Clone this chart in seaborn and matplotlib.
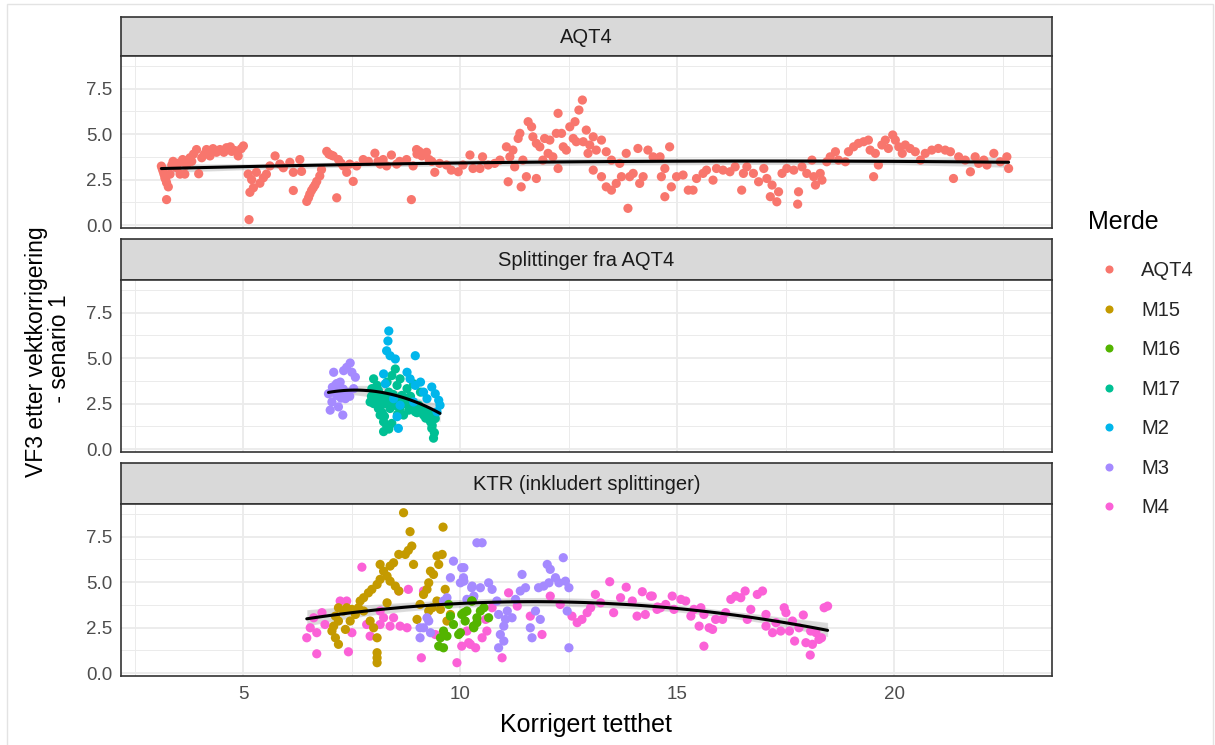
import numpy as np
import pandas as pd
import matplotlib
matplotlib.use("Agg")
import matplotlib.pyplot as plt
import seaborn as sns
from matplotlib.lines import Line2D
from matplotlib.patches import Rectangle

# ---------------- data ----------------
facets = ["AQT4", "Splittinger fra AQT4", "KTR (inkludert splittinger)"]
merder = ["AQT4", "M15", "M16", "M17", "M2", "M3", "M4"]
colors = ["#F8766D", "#C49A00", "#53B400", "#00C094", "#00B6EB", "#A58AFF", "#FB61D7"]

# Panel 1: AQT4
aqt4_x = [3.11, 3.13, 3.15, 3.17, 3.19, 3.21, 3.23, 3.23, 3.27, 3.31, 3.35, 3.38, 3.46, 3.50, 3.54,
          3.60, 3.65, 3.69, 3.77, 3.81, 3.85, 3.92, 3.97, 4.04, 4.10, 4.15, 4.23, 4.30, 4.38, 4.46,
          4.55, 4.61, 4.70, 4.73, 4.80, 4.88, 4.95, 5.00,
          5.11, 5.13, 5.15, 5.19, 5.23, 5.30, 5.38, 5.46, 5.53, 5.61, 5.73, 5.84, 5.92, 6.07, 6.15,
          6.15, 6.30, 6.34, 6.46, 6.50, 6.53, 6.57, 6.61, 6.65, 6.69, 6.76, 6.80, 6.92, 6.97, 7.02,
          7.07, 7.15, 7.19, 7.25, 7.30, 7.38, 7.45, 7.53, 7.61, 7.76, 7.88, 8.03, 8.10, 8.15, 8.22,
          8.30, 8.41, 8.53, 8.60, 8.76, 8.87, 8.91, 8.99, 9.00, 9.05, 9.11, 9.22, 9.28, 9.34, 9.41,
          9.52, 9.68, 9.79, 9.95, 10.06, 10.22, 10.29, 10.45, 10.51, 10.64, 10.79, 10.91, 11.06,
          11.10, 11.14, 11.21, 11.25, 11.33, 11.37, 11.40, 11.44, 11.52, 11.56, 11.64, 11.67, 11.75,
          11.75, 11.83, 11.90, 11.94, 12.02, 12.06, 12.13, 12.21, 12.25, 12.25, 12.33, 12.37, 12.44,
          12.52, 12.60, 12.64, 12.67, 12.73, 12.81, 12.83, 12.90, 12.94, 12.98, 13.06, 13.06, 13.13,
          13.25, 13.25, 13.36, 13.36, 13.48, 13.48, 13.59, 13.67, 13.71, 13.82, 13.86, 13.90, 13.98,
          14.09, 14.13, 14.21, 14.32, 14.44, 14.60, 14.63, 14.71, 14.71, 14.82, 14.86, 14.98, 15.13,
          15.25, 15.36, 15.44, 15.59, 15.67, 15.82, 15.90, 16.05, 16.21, 16.33, 16.48, 16.52,
          16.60, 16.75, 16.87, 16.99, 17.06, 17.14, 17.18, 17.29, 17.33, 17.41, 17.52, 17.68, 17.77,
          17.79, 17.87, 17.98, 18.10, 18.14, 18.18, 18.29, 18.33, 18.44, 18.52, 18.64, 18.71, 18.87,
          18.94, 19.06, 19.17, 19.29, 19.40, 19.44, 19.52, 19.56, 19.63, 19.71, 19.79, 19.86, 19.96,
          20.02, 20.10, 20.18, 20.25, 20.36, 20.48, 20.60, 20.71, 20.86, 21.01, 21.17, 21.29, 21.36,
          21.48, 21.63, 21.75, 21.86, 21.94, 22.06, 22.13, 22.29, 22.44, 22.59, 22.63]
aqt4_y = [3.24, 3.10, 2.96, 2.80, 2.60, 2.50, 2.33, 1.40, 2.10, 2.80, 3.30, 3.50, 3.15, 3.40, 2.80,
          3.60, 2.80, 3.30, 3.70, 3.50, 3.90, 4.15, 2.82, 3.70, 3.90, 4.15, 3.80, 4.20, 4.00, 4.15,
          4.00, 4.25, 4.30, 4.05, 4.10, 3.80, 4.20, 4.35,
          2.80, 0.30, 1.80, 2.50, 2.05, 2.90, 2.30, 2.60, 2.80, 3.25, 3.80, 3.35, 3.15, 3.45, 1.90,
          2.90, 3.60, 2.95, 1.30, 1.50, 1.70, 1.90, 2.05, 2.20, 2.40, 2.70, 3.05, 4.05, 3.90, 3.85,
          3.80, 1.50, 3.60, 3.40, 3.25, 2.90, 3.35, 2.40, 3.25, 3.60, 3.50, 3.95, 3.50, 3.35, 3.60,
          3.25, 3.85, 3.35, 3.50, 3.60, 1.40, 3.25, 4.15, 3.90, 4.05, 3.80, 4.00, 3.60, 3.50, 2.90,
          3.39, 3.30, 3.02, 2.93, 3.30, 3.85, 3.11, 3.11, 3.75, 3.30, 3.39, 3.57, 4.30,
          2.38, 3.75, 4.12, 3.20, 4.76, 5.04, 2.10, 3.57, 2.66, 5.68, 5.40, 4.85, 4.49,
          2.56, 4.30, 3.57, 4.76, 3.94, 4.67, 3.75, 5.04, 6.14, 3.11, 5.04, 4.30, 4.12,
          5.40, 4.76, 5.68, 4.58, 6.32, 6.87, 4.58, 5.22, 3.94, 4.40, 4.85, 3.02, 4.12,
          4.67, 2.66, 4.03, 2.10, 3.57, 1.92, 2.29, 3.39, 2.66, 3.94, 0.92, 2.66, 2.84,
          4.21, 2.29, 2.66, 4.12, 3.75, 3.75, 2.66, 1.56, 3.11, 4.30, 2.10, 2.66, 2.75,
          1.92, 1.92, 2.56, 2.84, 3.02, 2.47, 3.11, 3.02, 2.93, 3.20, 1.92, 2.84,
          3.20, 2.84, 2.38, 3.11, 2.56, 1.56, 2.20, 1.28, 1.83, 2.84, 3.11, 3.02, 1.15,
          1.83, 3.20, 2.84, 3.57, 2.66, 2.20, 2.84, 2.47, 3.48, 3.75, 4.03, 3.57, 3.48,
          4.03, 4.30, 4.49, 4.58, 4.67, 4.12, 2.66, 3.94, 3.30, 4.40, 4.67, 4.21, 4.95,
          4.67, 4.30, 3.94, 4.40, 4.21, 4.03, 3.57, 3.94, 4.12, 4.21, 4.12, 4.03, 2.56,
          3.75, 3.57, 2.93, 3.75, 3.39, 3.57, 3.30, 3.94, 3.48, 3.75, 3.11]

# Panel 2: Splittinger fra AQT4
split_m3_x = [6.96, 7.00, 7.04, 7.08, 7.12, 7.15, 7.19, 7.23, 7.27, 7.29, 7.31, 7.35, 7.38, 7.46, 7.50,
              7.58, 7.54, 7.10, 7.20, 7.25, 7.30, 7.40, 7.45, 7.05, 7.15]
split_m3_y = [3.04, 2.14, 2.59, 4.22, 3.50, 2.95, 2.32, 3.68, 3.13, 1.87, 4.31, 2.77, 4.49, 4.73, 4.22,
              3.95, 3.32, 3.20, 3.00, 2.80, 3.30, 3.10, 2.90, 3.40, 3.60]
split_m17_x = [7.92, 7.96, 8.00, 8.04, 8.08, 8.11, 8.15, 8.19, 8.23, 8.27, 8.23, 8.31, 8.35, 8.38, 8.42, 8.50,
               8.54, 8.57, 8.61, 8.65, 8.69, 8.77, 8.81, 8.84, 8.92, 8.96, 9.04, 9.08, 9.15, 9.23, 9.31,
               9.34, 9.38, 9.42, 8.11, 8.42,
               7.95, 8.00, 8.05, 8.10, 8.15, 8.20, 8.25, 8.30, 8.20, 8.30, 8.35, 8.40, 8.45, 8.50, 8.55,
               8.60, 8.70, 8.75, 8.85, 8.90, 9.00, 9.10, 9.20, 9.30, 9.35, 9.40]
split_m17_y = [2.59, 3.32, 3.86, 2.77, 3.50, 2.23, 1.87, 2.95, 1.50, 2.50, 0.96, 3.68, 3.13, 2.23, 4.04, 4.40,
               3.50, 2.77, 3.86, 2.95, 1.87, 3.32, 2.14, 2.59, 3.59, 2.05, 2.41, 3.13, 1.87, 2.05, 1.50,
               1.14, 0.60, 1.68, 3.22, 1.41,
               2.90, 2.50, 3.10, 2.70, 2.30, 2.00, 1.80, 2.90, 2.60, 1.30, 1.10, 2.60, 3.00, 2.40, 1.90,
               2.20, 2.50, 2.80, 2.90, 2.30, 2.00, 2.20, 1.70, 1.90, 1.30, 0.90]
split_m2_x = [8.35, 8.33, 8.30, 8.38, 8.50, 8.96, 8.23, 8.27, 8.46, 8.54, 8.57, 8.77, 8.84, 8.96, 9.08,
              9.15, 9.23, 9.34, 9.42, 9.50, 9.53, 9.46, 8.61, 8.92]
split_m2_y = [6.49, 5.94, 5.40, 5.13, 4.95, 5.13, 4.13, 3.59, 2.77, 1.78, 1.14, 4.22, 3.86, 3.50, 3.68,
              3.13, 2.77, 3.41, 3.04, 2.68, 2.41, 2.05, 2.41, 2.59]

# Panel 3: KTR (inkludert splittinger)
ktr_m15_x = [8.69, 9.60, 8.84, 8.88, 8.80, 8.73, 8.58, 8.92, 8.46, 8.38, 8.15, 8.23, 8.31, 8.15, 8.38,
             8.50, 8.58, 8.08, 7.96, 7.88, 7.77, 7.69, 7.65, 7.50, 7.38, 7.31, 7.19, 7.12, 7.19, 7.08,
             7.04, 7.12, 7.19, 7.35, 7.46, 7.58, 7.77, 8.08, 8.08, 8.08, 8.08, 8.00, 7.92, 8.31, 9.00,
             9.07, 9.15, 9.23, 9.27, 9.31, 9.38, 9.46, 9.58, 9.50, 9.65, 9.54, 9.69, 9.77, 9.46, 9.35, 9.27]
ktr_m15_y = [8.81, 8.02, 7.77, 6.98, 6.74, 6.52, 6.52, 5.97, 6.06, 5.88, 5.97, 5.60, 5.33, 5.15, 5.05,
             4.78, 4.51, 4.87, 4.60, 4.41, 4.14, 3.96, 3.59, 3.50, 3.59, 3.41, 3.59, 3.13, 2.86, 2.58,
             2.31, 1.94, 1.58, 2.40, 2.86, 3.22, 3.41, 1.94, 1.12, 0.84, 0.57, 2.49, 2.86, 3.86, 2.95,
             3.77, 4.32, 4.60, 4.96, 5.60, 5.42, 6.43, 6.52, 5.97, 4.60, 3.50, 2.86, 3.22, 3.96, 3.59, 3.41]
ktr_m16_x = [9.50, 9.54, 9.61, 9.69, 9.77, 9.84, 9.73, 9.96, 10.03, 10.11, 10.15, 10.26, 10.30, 10.38, 9.61,
             10.00, 10.08, 10.27, 10.31, 10.46, 10.54, 10.65, 10.38]
ktr_m16_y = [1.48, 1.94, 2.31, 2.03, 3.13, 2.67, 3.77, 2.12, 3.22, 2.86, 3.41, 3.96, 2.58, 3.04, 1.39,
             2.22, 3.32, 3.96, 2.49, 3.41, 3.59, 3.04, 2.77]
ktr_m3_x = [9.84, 10.03, 9.77, 10.00, 10.07, 9.69, 9.61, 10.26, 10.38, 9.23, 9.15, 9.07, 9.31, 9.07, 9.27, 10.30,
            10.50, 10.08, 10.08, 10.27, 10.46, 10.65, 10.73, 10.84, 10.88, 11.04, 11.08, 11.00, 10.92, 10.88,
            11.00, 11.19, 11.27, 11.42, 11.50, 11.38, 11.65, 11.61, 11.73, 11.84, 11.80, 11.92, 12.00, 12.07,
            12.04, 12.19, 12.27, 12.37, 12.42, 12.50, 12.46, 12.50, 10.15, 10.31]
ktr_m3_y = [6.15, 5.79, 5.24, 4.96, 5.24, 4.14, 3.96, 4.69, 7.16, 3.04, 2.49, 1.94, 2.22, 2.49, 2.86, 4.14,
            7.16, 5.79, 5.05, 4.78, 4.69, 4.96, 4.60, 3.96, 3.22, 2.95, 3.41, 2.58, 2.12, 1.39,
            1.76, 3.04, 4.05, 5.42, 4.69, 4.51, 1.94, 2.49, 3.41, 2.95, 4.69, 4.78, 5.97, 5.70,
            4.96, 5.24, 4.96, 6.34, 5.05, 4.69, 3.41, 1.39, 4.05, 4.23]
ktr_m4_x = [7.73, 7.23, 7.38, 6.81, 6.62, 6.54, 6.46, 6.69, 6.69, 6.88, 7.42, 7.50, 7.84, 7.92, 8.15, 8.23,
            8.15, 8.38, 8.46, 8.58, 8.80, 8.61, 8.77, 9.10, 9.15, 9.42, 9.92, 10.03, 10.23, 10.15,
            10.19, 10.35, 10.50, 10.61, 10.96, 11.11, 11.31, 11.61, 11.88, 12.07, 12.30, 12.57, 12.69,
            12.80, 12.92, 13.00, 13.11, 13.23, 13.44, 13.53, 13.69, 13.82, 13.96, 14.07, 14.19, 14.26,
            14.38, 14.53, 14.61, 10.58, 10.73,
            14.42, 14.54, 14.73, 14.88, 14.92, 15.08, 15.19, 15.31, 15.38, 15.50, 15.54, 15.61, 15.61,
            15.73, 15.81, 15.88, 16.04, 16.11, 16.23, 16.34, 16.46, 16.56, 16.61, 16.69, 16.84, 16.96,
            17.04, 17.04, 17.19, 17.27, 17.38, 17.46, 17.50, 17.58, 17.65, 17.70, 17.80, 17.90, 17.96,
            18.06, 18.11, 18.19, 18.26, 18.32, 18.38, 18.46, 18.07]
ktr_m4_y = [5.82, 3.96, 3.96, 3.32, 3.04, 2.49, 1.94, 2.22, 1.06, 2.67, 1.17, 2.22, 2.67, 2.03, 3.41, 3.04,
            2.67, 2.58, 3.04, 4.51, 4.60, 2.58, 2.49, 0.84, 4.51, 2.12, 0.57, 1.48, 1.58, 2.31,
            1.67, 1.39, 1.94, 2.31, 0.84, 4.41, 3.68, 3.13, 2.12, 4.23, 3.77, 3.13, 2.77,
            2.95, 3.32, 3.59, 4.32, 3.86, 5.02, 3.32, 4.14, 4.72, 3.96, 3.13, 4.47, 3.22,
            4.23, 3.50, 3.59, 2.95, 3.59,
            4.23, 3.63, 3.77, 4.23, 3.50, 4.05, 3.96, 3.13, 3.50, 2.58, 3.59, 1.48, 3.22,
            2.49, 2.40, 2.95, 2.95, 3.32, 4.05, 4.23, 4.14, 4.51, 2.95, 3.50, 4.32, 4.51,
            3.22, 2.58, 2.22, 2.77, 2.31, 3.59, 3.32, 2.31, 2.86, 1.76, 2.49, 3.19, 1.67,
            0.99, 1.58, 2.22, 1.85, 1.94, 3.59, 3.68, 2.31]

# ---------------- assemble ----------------
parts = [
    (facets[0], "AQT4", aqt4_x, aqt4_y),
    (facets[1], "M3", split_m3_x, split_m3_y),
    (facets[1], "M17", split_m17_x, split_m17_y),
    (facets[1], "M2", split_m2_x, split_m2_y),
    (facets[2], "M4", ktr_m4_x, ktr_m4_y),
    (facets[2], "M15", ktr_m15_x, ktr_m15_y),
    (facets[2], "M3", ktr_m3_x, ktr_m3_y),
    (facets[2], "M16", ktr_m16_x, ktr_m16_y),
]
frames = [pd.DataFrame({"facet": f, "Merde": m, "x": xs, "y": ys}) for f, m, xs, ys in parts]
df = pd.concat(frames, ignore_index=True)
palette = dict(zip(merder, colors))

# ---------------- figure ----------------
sns.set_theme(style="white")
plt.rcParams['font.family'] = ['Liberation Sans', 'DejaVu Sans']

W, H = 1215, 745
fig = plt.figure(figsize=(W / 100, H / 100), dpi=100)
fig.patch.set_facecolor("white")
fig.patches.append(Rectangle((7 / W, -0.01), (1213 - 7) / W, 1 - 4 / H + 0.01,
                             transform=fig.transFigure, fill=False,
                             edgecolor="#e3e3e3", lw=1.0))

def fbox(x0, y0, x1, y1):
    return [x0 / W, 1 - y1 / H, (x1 - x0) / W, (y1 - y0) / H]

px0, px1 = 121, 1052
panels = [(17, 56, 228), (239, 280, 452), (463, 504, 676)]
xlim = (2.18, 23.63)
ylim = (-0.16, 9.29)
dark = "#333333"

for i, (facet, (s0, p0, p1)) in enumerate(zip(facets, panels)):
    # strip
    sax = fig.add_axes(fbox(px0, s0, px1, p0))
    sax.set_facecolor("#d9d9d9")
    sax.set_xticks([]); sax.set_yticks([])
    for sp in sax.spines.values():
        sp.set_color(dark); sp.set_linewidth(1.2)
    sax.text(0.5, 0.48, facet, ha="center", va="center", fontsize=14.5,
             color="#1a1a1a", transform=sax.transAxes)

    ax = fig.add_axes(fbox(px0, p0, px1, p1))
    sub = df[df["facet"] == facet]
    sns.scatterplot(data=sub, x="x", y="y", hue="Merde", palette=palette,
                    hue_order=merder, s=44, linewidth=0, alpha=1, ax=ax, legend=False,
                    zorder=3)
    sns.regplot(data=sub, x="x", y="y", order=2, scatter=False, ci=95, n_boot=300,
                seed=3, color="black", line_kws={"lw": 2.2, "zorder": 4}, ax=ax)
    ax.set_xlim(*xlim); ax.set_ylim(*ylim)
    ax.set_xticks([5, 10, 15, 20])
    ax.set_xticks([2.5, 7.5, 12.5, 17.5, 22.5], minor=True)
    ax.set_yticks([0, 2.5, 5, 7.5])
    ax.set_yticks([1.25, 3.75, 6.25, 8.75], minor=True)
    ax.set_yticklabels(["0.0", "2.5", "5.0", "7.5"])
    ax.grid(True, which="major", color="#ebebeb", lw=1.3)
    ax.grid(True, which="minor", color="#ebebeb", lw=0.7)
    ax.set_axisbelow(True)
    for sp in ax.spines.values():
        sp.set_color(dark); sp.set_linewidth(1.2)
    ax.tick_params(axis="y", which="major", length=4, width=1.1, color=dark,
                   labelsize=13.5, labelcolor="#4d4d4d", pad=2)
    ax.tick_params(which="minor", length=0)
    if i < 2:
        ax.tick_params(axis="x", which="major", length=0, labelbottom=False)
    else:
        ax.tick_params(axis="x", which="major", length=4, width=1.1, color=dark,
                       labelsize=13.5, labelcolor="#4d4d4d", pad=3)
    ax.set_xlabel(""); ax.set_ylabel("")

fig.text(586 / W, 1 - 725 / H, "Korrigert tetthet", ha="center", va="center",
         fontsize=18, color="black")
fig.text(48 / W, 1 - 352 / H, "VF3 etter vektkorrigering\n - senario 1", ha="center",
         va="center", rotation=90, fontsize=16.5, color="black", linespacing=0.95)

# legend
fig.text(1088 / W, 1 - 222 / H, "Merde", ha="left", va="center", fontsize=18, color="black")
handles = [Line2D([0], [0], marker="o", linestyle="", markersize=5.8,
                  markerfacecolor=c, markeredgewidth=0) for c in colors]
leg = fig.legend(handles, merder, loc="upper left",
                 bbox_to_anchor=(1091 / W, 1 - 253 / H), frameon=False,
                 fontsize=14.5, labelspacing=1.02,
                 handletextpad=1.1, borderaxespad=0, borderpad=0.4,
                 handlelength=1.0)

fig.savefig("out.png", dpi=100)
